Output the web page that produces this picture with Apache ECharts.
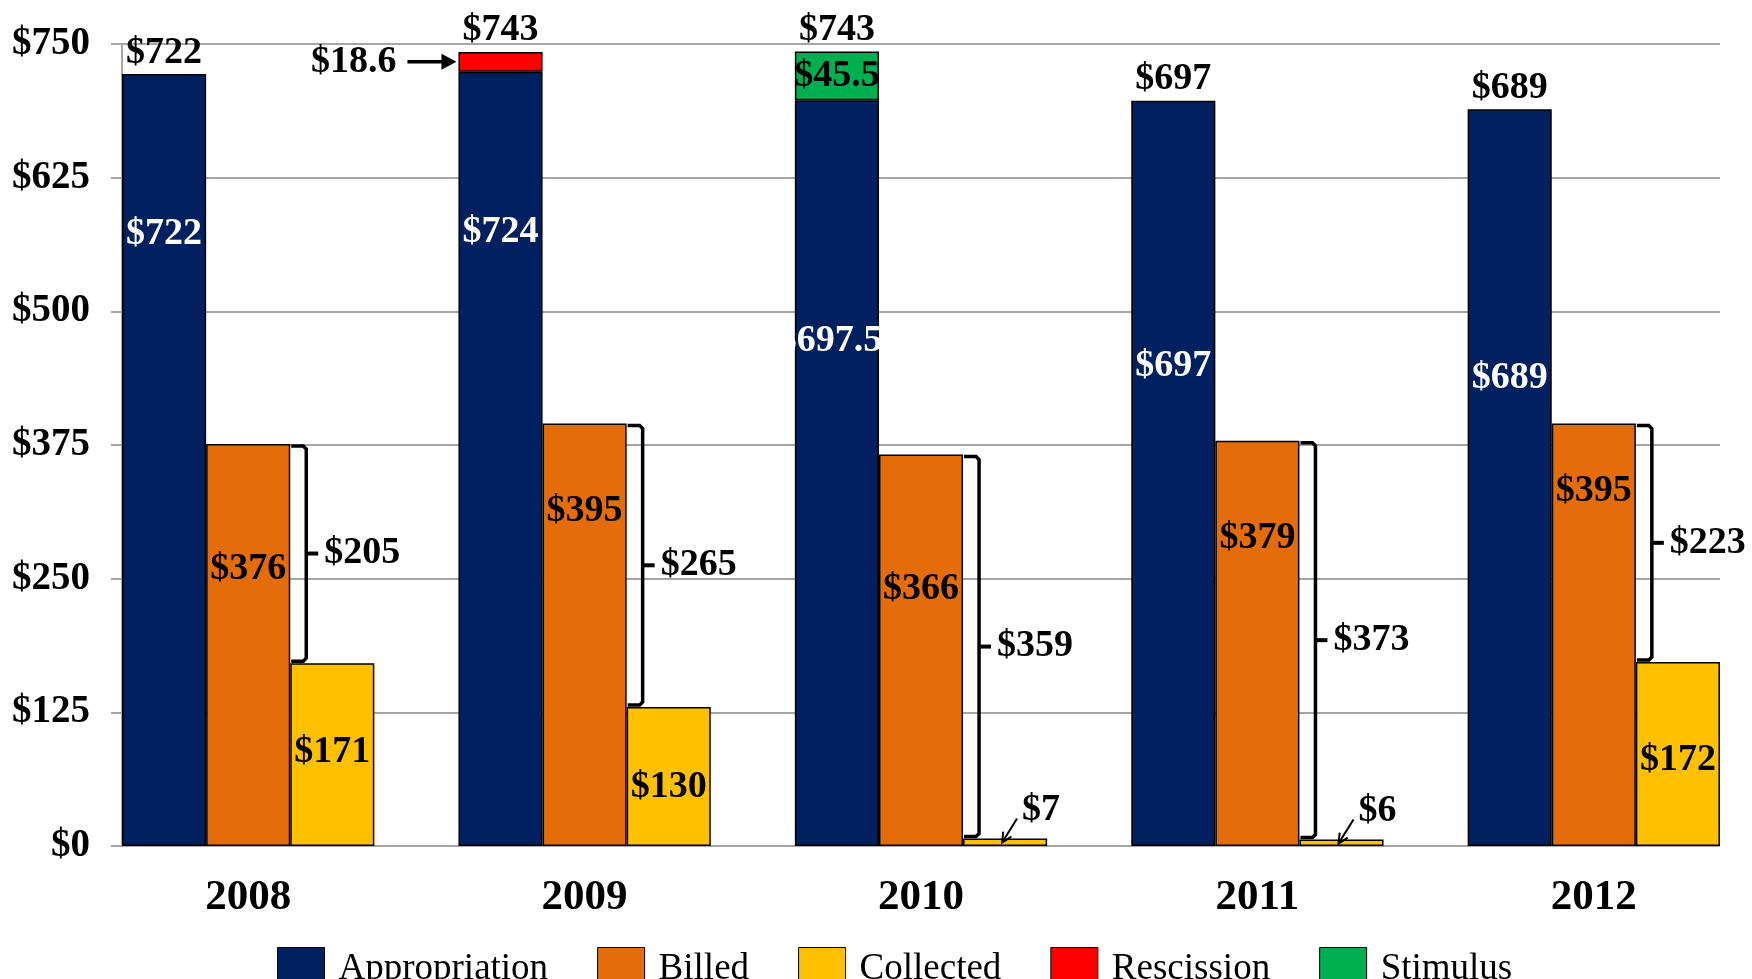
<!DOCTYPE html>
<html>
<head>
<meta charset="utf-8">
<script src="https://cdn.jsdelivr.net/npm/echarts@6/dist/echarts.min.js"></script>
<style>
  html, body { margin: 0; padding: 0; background: #fff; overflow: hidden; }
  /* a little wider than the window: the last bar group runs to the edge */
  #chart { width: 1770px; height: 979px; }
</style>
</head>
<body>
<div id="chart"></div>
<script>
// chart data
var years = ["2008", "2009", "2010", "2011", "2012"];
var appropriation = [722, 724, 697.5, 697, 689];
var billed = [376, 395, 366, 379, 395];
var collected = [171, 130, 7, 6, 172];
var rescission = [null, 18.6, null, null, null];
var stimulus = [null, null, 45.5, null, null];
var yTicks = [0, 125, 250, 375, 500, 625, 750];

// label placement (Excel put these by hand)
var apprLabelPos = [[0, 160], [0, 160], [-7, 241], [0, 266], [0, 269]];
var billedLabelDrop = [125, 88, 135, 97, 68];
var collectedLabelShift = [-2, 11, 0, 0, 6];

var FONT = "Liberation Serif";
var LABEL_SIZE = 38;
var chartDom = document.getElementById("chart");
var myChart = echarts.init(chartDom);

var totals = appropriation.map(function (v, i) {
  return Math.round(v + (rescission[i] || 0) + (stimulus[i] || 0));
});

function barWidth(api) {
  return (api.size([1, 0])[0] * 0.75) / 3;
}

var valueLabel = { fontFamily: FONT, fontWeight: "bold", fontSize: LABEL_SIZE, color: "#000" };
var lineStyle = { stroke: "#000", lineWidth: 3.5, fill: null, lineJoin: "miter" };

function textEl(x, y, text, align, vAlign) {
  return {
    type: "text", x: x, y: y, z2: 10,
    style: { text: text, fill: "#000", fontFamily: FONT, fontWeight: "bold", fontSize: LABEL_SIZE, align: align, verticalAlign: vAlign }
  };
}

// total above the stacked appropriation bar
function renderTotal(params, api) {
  var p = api.coord([api.value(0), api.value(1)]);
  var w = barWidth(api);
  return textEl(p[0] - w, p[1] - 2, "$" + api.value(1), "center", "bottom");
}

// bracket between billed and collected
function renderBracket(params, api) {
  var i = api.value(0);
  var top = api.coord([i, api.value(1)]);
  var bot = api.coord([i, api.value(2)]);
  var w = barWidth(api);
  var x0 = top[0] + w / 2 + 1;
  var xv = x0 + 15;
  var yT = top[1] + 2, yB = bot[1] - 2, yM = (yT + yB) / 2;
  return {
    type: "group",
    children: [
      { type: "polyline", shape: { points: [[x0, yT], [xv - 3, yT], [xv, yT + 3], [xv, yB - 3], [xv - 3, yB], [x0, yB]] }, style: lineStyle },
      { type: "line", shape: { x1: xv, y1: yM, x2: xv + 12, y2: yM }, style: { stroke: "#000", lineWidth: 4 } },
      textEl(xv + 18, yM, "$" + Math.round(api.value(1) - api.value(2)), "left", "middle")
    ]
  };
}

// thin arrow to a tiny collected bar
function renderSmall(params, api) {
  var p = api.coord([api.value(0), api.value(1)]);
  var w = barWidth(api);
  var cx = p[0] + w;
  var head = [cx - 3, p[1] + 4];
  var tail = [cx + 12, p[1] - 20];
  var dx = head[0] - tail[0], dy = head[1] - tail[1];
  var len = Math.sqrt(dx * dx + dy * dy);
  var ux = dx / len, uy = dy / len;
  function wing(a) {
    var c = Math.cos(a), s = Math.sin(a);
    return [head[0] - 11 * (ux * c - uy * s), head[1] - 11 * (ux * s + uy * c)];
  }
  var thin = { stroke: "#000", lineWidth: 2, fill: null };
  return {
    type: "group",
    children: [
      { type: "line", shape: { x1: tail[0], y1: tail[1], x2: head[0], y2: head[1] }, style: thin },
      { type: "polyline", shape: { points: [wing(0.45), head, wing(-0.45)] }, style: thin },
      textEl(cx + 17, p[1] - 28, "$" + api.value(1), "left", "middle")
    ]
  };
}

// arrow pointing at the rescission slice
function renderRescission(params, api) {
  var p = api.coord([api.value(0), api.value(1)]);
  var w = barWidth(api);
  var xl = p[0] - 1.5 * w;
  var y = p[1];
  return {
    type: "group",
    children: [
      { type: "line", shape: { x1: xl - 51, y1: y, x2: xl - 12, y2: y }, style: { stroke: "#000", lineWidth: 3.5 } },
      { type: "polygon", shape: { points: [[xl - 2, y], [xl - 17, y - 8], [xl - 17, y + 8]] }, style: { fill: "#000" } },
      textEl(xl - 62, y, "$" + api.value(2), "right", "middle")
    ]
  };
}

var barBase = { type: "bar", xAxisIndex: 1, yAxisIndex: 1, barGap: "0%", barCategoryGap: "25%" };
function bar(extra) {
  return Object.assign({}, barBase, extra);
}
function itemStyle(color) {
  return { color: color, borderColor: "#000", borderWidth: 1.5 };
}

var option = {
  animation: false,
  backgroundColor: "#fff",
  grid: [
    { left: 122, right: 50, top: 44, bottom: 133 },
    { left: 80, right: 8, top: 44, bottom: 133 }
  ],
  xAxis: [
    { gridIndex: 0, type: "value", min: 0, max: 1, show: false },
    {
      gridIndex: 1, type: "category", data: years,
      axisLine: { show: false }, axisTick: { show: false },
      axisLabel: { fontFamily: FONT, fontWeight: "bold", fontSize: 43, color: "#000", margin: 30 }
    }
  ],
  yAxis: [
    {
      gridIndex: 0, type: "value", min: yTicks[0], max: yTicks[yTicks.length - 1], interval: yTicks[1] - yTicks[0],
      axisLine: { show: true, lineStyle: { color: "#a6a6a6", width: 2 } },
      axisTick: { show: true, inside: false, length: 11, lineStyle: { color: "#a6a6a6", width: 2 } },
      splitLine: { show: true, lineStyle: { color: "#a6a6a6", width: 2 } },
      axisLabel: {
        fontFamily: FONT, fontWeight: "bold", fontSize: 39, color: "#000", margin: 32,
        formatter: function (v) { return "$" + v; }
      }
    },
    { gridIndex: 1, type: "value", min: yTicks[0], max: yTicks[yTicks.length - 1], show: false }
  ],
  legend: {
    data: ["Appropriation", "Billed", "Collected", "Rescission", "Stimulus"],
    left: 272, top: 942, icon: "rect",
    itemWidth: 47, itemHeight: 44, itemGap: 49,
    itemStyle: { borderColor: "#000", borderWidth: 1 },
    textStyle: { fontFamily: FONT, fontSize: 37, color: "#000", padding: [0, 0, 0, 9] }
  },
  series: [
    bar({
      name: "Appropriation", stack: "total", itemStyle: itemStyle("#002060"),
      data: appropriation.map(function (v, i) {
        return { value: v, label: { position: ["50%", apprLabelPos[i][1]], offset: [apprLabelPos[i][0], 0] } };
      }),
      label: Object.assign({}, valueLabel, {
        show: true, color: "#fff", align: "center", verticalAlign: "middle",
        formatter: function (p) { return "$" + p.value; }
      })
    }),
    bar({
      name: "Billed", itemStyle: itemStyle("#E46C0A"),
      data: billed.map(function (v, i) {
        return { value: v, label: { position: ["50%", billedLabelDrop[i]] } };
      }),
      label: Object.assign({}, valueLabel, {
        show: true, align: "center", verticalAlign: "middle",
        formatter: function (p) { return "$" + p.value; }
      })
    }),
    bar({
      name: "Collected", itemStyle: itemStyle("#FFC000"),
      data: collected.map(function (v, i) {
        return { value: v, label: { show: v >= 20, offset: [0, collectedLabelShift[i]] } };
      }),
      label: Object.assign({}, valueLabel, {
        show: true, position: "inside",
        formatter: function (p) { return "$" + p.value; }
      })
    }),
    bar({ name: "Rescission", stack: "total", itemStyle: itemStyle("#FF0000"), data: rescission }),
    bar({
      name: "Stimulus", stack: "total", itemStyle: itemStyle("#00B050"), data: stimulus,
      label: Object.assign({}, valueLabel, {
        show: true, position: "inside",
        formatter: function (p) { return "$" + p.value; }
      })
    }),
    {
      name: "totals", type: "custom", xAxisIndex: 1, yAxisIndex: 1, z: 10,
      renderItem: renderTotal,
      data: totals.map(function (t, i) { return [i, t]; })
    },
    {
      name: "gap", type: "custom", xAxisIndex: 1, yAxisIndex: 1, z: 10,
      renderItem: renderBracket,
      data: billed.map(function (b, i) { return [i, b, collected[i]]; })
    },
    {
      name: "small", type: "custom", xAxisIndex: 1, yAxisIndex: 1, z: 10,
      renderItem: renderSmall,
      data: collected.map(function (c, i) { return [i, c]; }).filter(function (d) { return d[1] < 20; })
    },
    {
      name: "rescNote", type: "custom", xAxisIndex: 1, yAxisIndex: 1, z: 10,
      renderItem: renderRescission,
      data: rescission.map(function (r, i) { return r == null ? null : [i, appropriation[i] + r / 2, r]; })
        .filter(function (d) { return d != null; })
    }
  ]
};

option && myChart.setOption(option);
</script>
</body>
</html>
